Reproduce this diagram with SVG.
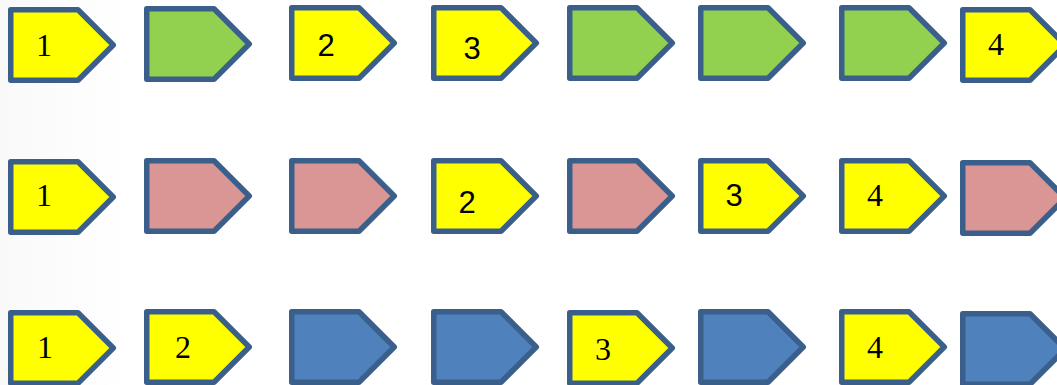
<svg xmlns="http://www.w3.org/2000/svg" xmlns:xlink="http://www.w3.org/1999/xlink" width="1057" height="385" viewBox="0 0 1057 385">
  <defs>
    <linearGradient id="bg" x1="0" y1="0" x2="1" y2="0">
      <stop offset="0" stop-color="#f9f9f9"/>
      <stop offset="1" stop-color="#ffffff"/>
    </linearGradient>
    <polygon id="pent" points="2.75,2.75 70,2.75 105.25,38 70,73.25 2.75,73.25"/>
  </defs>
  <style>
    .sh { stroke:#3A5F8B; stroke-width:5.5; stroke-linejoin:round; }
    .y { fill:#FFFF00; }
    .g { fill:#92D050; }
    .p { fill:#D99694; }
    .b { fill:#4F81BD; }
    .ts { font-family:"Liberation Serif","Times New Roman",serif; font-size:32px; fill:#000; text-anchor:middle; }
    .tn { font-family:"Liberation Sans",Arial,sans-serif; font-size:31px; fill:#000; text-anchor:middle; }
  </style>
  <rect x="0" y="0" width="1057" height="385" fill="#ffffff"/>
  <rect x="0" y="0" width="130" height="385" fill="url(#bg)"/>
  <g id="connectors"/>

  <!-- Row 1 -->
  <g id="r1n1"><use xlink:href="#pent" class="sh y" transform="translate(8,7)"/><text class="ts" x="44" y="56">1</text></g>
  <g id="r1n2"><use xlink:href="#pent" class="sh g" transform="translate(144,6)"/></g>
  <g id="r1n3"><use xlink:href="#pent" class="sh y" transform="translate(289,5)"/><text class="tn" x="326" y="56">2</text></g>
  <g id="r1n4"><use xlink:href="#pent" class="sh y" transform="translate(431,5)"/><text class="tn" x="472" y="59">3</text></g>
  <g id="r1n5"><use xlink:href="#pent" class="sh g" transform="translate(567,5)"/></g>
  <g id="r1n6"><use xlink:href="#pent" class="sh g" transform="translate(698,5)"/></g>
  <g id="r1n7"><use xlink:href="#pent" class="sh g" transform="translate(839,5)"/></g>
  <g id="r1n8"><use xlink:href="#pent" class="sh y" transform="translate(960,7)"/><text class="ts" x="996" y="55">4</text></g>

  <!-- Row 2 -->
  <g id="r2n1"><use xlink:href="#pent" class="sh y" transform="translate(8,159)"/><text class="ts" x="44" y="206">1</text></g>
  <g id="r2n2"><use xlink:href="#pent" class="sh p" transform="translate(144,158)"/></g>
  <g id="r2n3"><use xlink:href="#pent" class="sh p" transform="translate(289,158)"/></g>
  <g id="r2n4"><use xlink:href="#pent" class="sh y" transform="translate(431,158)"/><text class="tn" x="467" y="213">2</text></g>
  <g id="r2n5"><use xlink:href="#pent" class="sh p" transform="translate(567,158)"/></g>
  <g id="r2n6"><use xlink:href="#pent" class="sh y" transform="translate(698,158)"/><text class="tn" x="734" y="206">3</text></g>
  <g id="r2n7"><use xlink:href="#pent" class="sh y" transform="translate(839,158)"/><text class="ts" x="875" y="206">4</text></g>
  <g id="r2n8"><use xlink:href="#pent" class="sh p" transform="translate(960,160)"/></g>

  <!-- Row 3 -->
  <g id="r3n1"><use xlink:href="#pent" class="sh y" transform="translate(8,310)"/><text class="ts" x="45" y="358">1</text></g>
  <g id="r3n2"><use xlink:href="#pent" class="sh y" transform="translate(144,309)"/><text class="ts" x="183" y="358">2</text></g>
  <g id="r3n3"><use xlink:href="#pent" class="sh b" transform="translate(289,309)"/></g>
  <g id="r3n4"><use xlink:href="#pent" class="sh b" transform="translate(431,309)"/></g>
  <g id="r3n5"><use xlink:href="#pent" class="sh y" transform="translate(567,310)"/><text class="ts" x="603" y="360">3</text></g>
  <g id="r3n6"><use xlink:href="#pent" class="sh b" transform="translate(698,309)"/></g>
  <g id="r3n7"><use xlink:href="#pent" class="sh y" transform="translate(839,309)"/><text class="ts" x="875" y="358">4</text></g>
  <g id="r3n8"><use xlink:href="#pent" class="sh b" transform="translate(960,311)"/></g>
</svg>
